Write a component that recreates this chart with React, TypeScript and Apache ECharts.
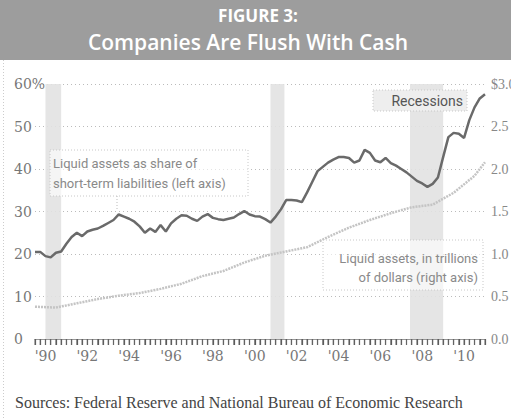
import React, { useEffect, useRef } from "react";
import * as echarts from "echarts";

// Liquid assets as share of short-term liabilities (%), quarterly from 1990 Q1
const startYear = 1990;
const shareOfLiabilities = [
  20.5, 20.5, 19.5, 19.2, 20.3, 20.6, 22.4, 24, 25, 24.2,
  25.3, 25.7, 26, 26.6, 27.3, 28, 29.3, 28.8, 28.3, 27.6,
  26.5, 25, 26, 25.2, 26.8, 25.3, 27.2, 28.3, 29.1, 29,
  28.3, 27.8, 28.8, 29.4, 28.5, 28.2, 28, 28.3, 28.6, 29.4,
  30.1, 29.3, 28.9, 28.8, 28.2, 27.4, 28.8, 30.5, 32.7, 32.7,
  32.6, 32.2, 34.5, 37, 39.5, 40.5, 41.5, 42.2, 42.8, 42.8,
  42.6, 41.5, 42, 44.5, 43.8, 42, 41.6, 42.6, 41.4, 40.8,
  40, 39.2, 38.2, 37.2, 36.6, 35.8, 36.5, 38, 42.8, 47.5,
  48.5, 48.3, 47.3, 51.5, 54.5, 56.6, 57.6,
];

// Liquid assets, trillions of dollars
const assetYears = [
  1990, 1991, 1992, 1993, 1994, 1995, 1996, 1997, 1998, 1999, 2000,
  2001, 2002, 2003, 2004, 2005, 2006, 2007, 2008, 2009, 2010, 2011, 2011.5,
];
const assetValues = [
  0.38, 0.37, 0.42, 0.47, 0.51, 0.54, 0.59, 0.65, 0.74, 0.8, 0.9,
  0.98, 1.03, 1.08, 1.2, 1.31, 1.4, 1.48, 1.55, 1.58, 1.72, 1.92, 2.08,
];

// Recession periods (start, end) in fractional years
const recessionStarts = [1990.5, 2001.25, 2007.917];
const recessionEnds = [1991.25, 2001.917, 2009.5];

// x-axis labels, placed at mid-year
const labelYears = [1990, 1992, 1994, 1996, 1998, 2000, 2002, 2004, 2006, 2008, 2010];
const leftTicks = [0, 10, 20, 30, 40, 50, 60];
const rightTicks = [0, 0.5, 1, 1.5, 2, 2.5, 3];

export default function App() {
  const ref = useRef<HTMLDivElement>(null);
  useEffect(() => {
    document.body.style.margin = "0";
    if (!ref.current) return;
    const chart = echarts.init(ref.current, null, { renderer: "svg" });
    const serifFamily = "DejaVu Serif";
    const serif = "'Liberation Serif', serif";
    const sans = "Roboto, 'Open Sans', sans-serif";
    const shareData = shareOfLiabilities.map((v, i) => [startYear + i / 4, v]);
    const assetData = assetYears.map((y, i) => [y, assetValues[i]]);
    const quarterTicks = shareOfLiabilities.map((_, i) => startYear + i / 4);
    const bands = recessionStarts.map((s, i) => [
      { xAxis: s },
      { xAxis: recessionEnds[i] },
    ]);
    const baseGraphics: any[] = [
      { type: "rect", shape: { x: 0, y: 0, width: 511, height: 60 }, style: { fill: "#9d9d9d" }, z: 10 },
      {
        type: "text", x: 258, y: 15, z: 11,
        style: { text: "FIGURE 3:", font: "bold 17px 'Open Sans', Roboto, sans-serif", fill: "#ffffff", textAlign: "center", textVerticalAlign: "middle" },
      },
      {
        type: "text", x: 248, y: 42, z: 11,
        style: { text: "Companies Are Flush With Cash", font: "600 21px 'Open Sans', Roboto, sans-serif", fill: "#ffffff", textAlign: "center", textVerticalAlign: "middle" },
      },
      { type: "line", shape: { x1: 3.5, y1: 60, x2: 3.5, y2: 419 }, style: { stroke: "#cccccc", lineWidth: 1, lineDash: [1, 2] }, z: 1 },
      // left annotation
      { type: "rect", shape: { x: 50, y: 150, width: 198, height: 46 }, style: { fill: "rgba(255,255,255,0.6)", stroke: "#c8c8c8", lineWidth: 1, lineDash: [1, 2] }, z: 5 },
      { type: "line", shape: { x1: 117, y1: 196, x2: 117, y2: 210 }, style: { stroke: "#bbbbbb", lineWidth: 1, lineDash: [1, 2] }, z: 5 },
      {
        type: "text", x: 53, y: 163, z: 6,
        style: { text: "Liquid assets as share of", font: `13px ${sans}`, fill: "#8a8a8a", textAlign: "left", textVerticalAlign: "middle" },
      },
      {
        type: "text", x: 53, y: 183, z: 6,
        style: { text: "short-term liabilities (left axis)", font: `13px ${sans}`, fill: "#8a8a8a", textAlign: "left", textVerticalAlign: "middle" },
      },
      // right annotation
      { type: "rect", shape: { x: 323, y: 240, width: 160, height: 50 }, style: { fill: "rgba(255,255,255,0.6)", stroke: "#c8c8c8", lineWidth: 1, lineDash: [1, 2] }, z: 5 },
      {
        type: "text", x: 478, y: 258, z: 6,
        style: { text: "Liquid assets, in trillions", font: `13px ${sans}`, fill: "#8a8a8a", textAlign: "right", textVerticalAlign: "middle" },
      },
      {
        type: "text", x: 478, y: 277, z: 6,
        style: { text: "of dollars (right axis)", font: `13px ${sans}`, fill: "#8a8a8a", textAlign: "right", textVerticalAlign: "middle" },
      },
      // recessions label
      { type: "rect", shape: { x: 373, y: 90, width: 94, height: 21 }, style: { fill: "#eeeeee", stroke: "#c8c8c8", lineWidth: 1, lineDash: [1, 2] }, z: 5 },
      {
        type: "text", x: 463, y: 101, z: 6,
        style: { text: "Recessions", font: `14px ${sans}`, fill: "#555555", textAlign: "right", textVerticalAlign: "middle" },
      },
      {
        type: "text", x: 15, y: 402, z: 6,
        style: { text: "Sources: Federal Reserve and National Bureau of Economic Research", font: `16px ${serif}`, fill: "#444444", textAlign: "left", textVerticalAlign: "middle" },
      },
    ];
    chart.setOption({
      animation: false,
      backgroundColor: "#ffffff",
      textStyle: { fontFamily: serifFamily },
      grid: { left: 35, right: 26, top: 84, bottom: 80, outerBoundsMode: "none", containLabel: false },
      xAxis: {
        type: "value",
        min: 1990,
        max: 2011.5,
        splitLine: { show: false },
        axisLine: { show: true, onZero: false, lineStyle: { color: "#999999", width: 1 } },
        axisTick: {
          show: true,
          inside: false,
          length: 6,
          customValues: quarterTicks,
          lineStyle: { color: "#555555", width: 1.2 },
        },
        axisLabel: {
          margin: 10,
          color: "#777777",
          fontFamily: serifFamily,
          fontSize: 14,
          customValues: labelYears.map((y) => y + 0.5),
          formatter: (v: number) => "'" + String(Math.floor(v)).slice(2),
        },
      },
      yAxis: [
        {
          type: "value",
          min: leftTicks[0],
          max: leftTicks[leftTicks.length - 1],
          interval: 10,
          axisLine: { show: false },
          axisTick: { show: false },
          splitLine: { show: true, lineStyle: { color: "#bbbbbb", type: [1, 3], width: 1 } },
          axisLabel: {
            align: "left",
            margin: 21,
            color: "#777777",
            fontFamily: serifFamily,
            fontSize: 14,
            formatter: (v: number) => (v === 60 ? "60%" : String(v)),
          },
        },
        {
          type: "value",
          min: rightTicks[0],
          max: rightTicks[rightTicks.length - 1],
          interval: 0.5,
          axisLine: { show: false },
          axisTick: { show: false },
          splitLine: { show: false },
          axisLabel: {
            align: "left",
            margin: 6,
            color: "#888888",
            fontFamily: "Liberation Serif",
            fontSize: 14,
            formatter: (v: number) => (v === 3 ? "$3.0" : v.toFixed(1)),
          },
        },
      ],
      series: [
        {
          type: "line",
          name: "Liquid assets (trillions)",
          yAxisIndex: 1,
          data: assetData,
          symbol: "none",
          lineStyle: { color: "#c4c4c4", width: 2.5, type: [2, 1] },
          z: 2,
        },
        {
          type: "line",
          name: "Share of short-term liabilities",
          yAxisIndex: 0,
          data: shareData,
          symbol: "none",
          lineStyle: { color: "#6a6a6a", width: 2.5 },
          z: 3,
          markArea: {
            silent: true,
            itemStyle: { color: "#e2e2e2", opacity: 0.9 },
            data: bands,
          },
        },
      ],
      graphic: baseGraphics,
    });
    // quarterly tick marks along the x-axis, positioned through the axis scale
    const tickGraphics: any[] = [];
    quarterTicks.forEach((q) => {
      const p = chart.convertToPixel({ gridIndex: 0 }, [q, 0]) as number[];
      if (p && isFinite(p[0]) && isFinite(p[1])) {
        tickGraphics.push({
          type: "line",
          shape: { x1: p[0], y1: p[1], x2: p[0], y2: p[1] + 6 },
          style: { stroke: "#666666", lineWidth: 1 },
          z: 12,
        });
      }
    });
    if (tickGraphics.length) {
      chart.setOption({ graphic: [...baseGraphics, ...tickGraphics] });
    }
    return () => chart.dispose();
  }, []);
  return <div ref={ref} style={{ width: 511, height: 419 }} />;
}
